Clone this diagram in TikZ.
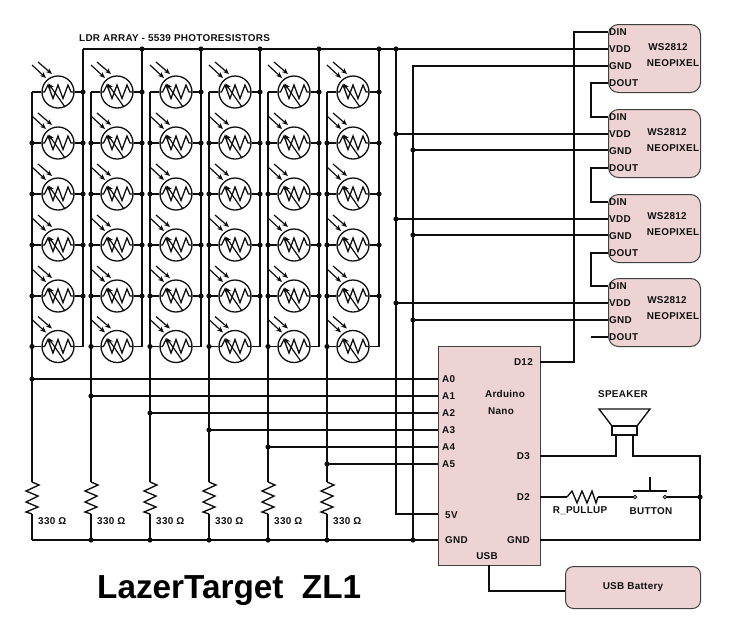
\documentclass[tikz,border=0pt]{standalone}
\usepackage{fontspec}
\setmainfont{Liberation Sans}
\newfontfamily\labelfont[LetterSpace=3]{Liberation Sans}
\usetikzlibrary{calc, arrows.meta, positioning}
\definecolor{wireBlack}{gray}{0.06}
\definecolor{boxPink}{HTML}{EDD3D3}
\definecolor{boxBorder}{gray}{0.25}

\tikzset{
    wire/.style={line width=1.35pt, wireBlack, line join=miter},
    txt/.style={font=\labelfont\bfseries\fontsize{9.9}{11}\selectfont, text=wireBlack, inner sep=0pt},
    chipbox/.style={draw=boxBorder, fill=boxPink, line width=1pt, inner sep=0pt, anchor=north west},
    ldrring/.style={circle, draw=wireBlack, line width=1.3pt, minimum size=32pt, inner sep=0pt},
    ldr/.pic={
        \draw[line width=1.3pt, wireBlack] (-16,0) -- (-13.5,0) -- (-10,-7) -- (-5,6.5) -- (0,-7) -- (5,6.5) -- (10,-7) -- (13,0) -- (16,0);
        \draw[->, line width=1.2pt, wireBlack] (7,15) -- (-9.5,-8.5);
        \draw[->, line width=1.2pt, wireBlack] (-26,-27) -- (-12,-14);
        \draw[->, line width=1.2pt, wireBlack] (-20,-30) -- (-6,-18);
    },
    vres/.pic={
        \draw[wire] (0,0) -- (7,3) -- (-6,9) -- (6,14) -- (-6,20) -- (6,25) -- (-6,30) -- (0,32);
    },
    hres/.pic={
        \draw[wire] (0,0) -- (5,-6) -- (10,6) -- (15,-6) -- (20,6) -- (25,-6) -- (29,6) -- (31,0);
    },
    jdot/.style={circle, fill=wireBlack, inner sep=0pt, minimum size=5.2pt}
}

\begin{document}
\begin{tikzpicture}[x=1pt, y=-1pt, >={Stealth[length=6pt,width=5pt]}]
    \useasboundingbox (0,0) rectangle (735,643);

    % LDR matrix
    \foreach \c/\cx/\lx/\rx in {1/58/32/83, 2/117/91/142, 3/176/150/201, 4/235/209/260, 5/294/268/319, 6/353/327/379} {
        \foreach \r/\ry in {1/92, 2/143, 3/194, 4/245, 5/296, 6/346.5} {
            \node[ldrring] (ldr\c\r) at (\cx,\ry) {};
            \pic at (ldr\c\r) {ldr};
            \coordinate (lb\c\r) at (\lx,\ry);
            \coordinate (rb\c\r) at (\rx,\ry);
            \draw[wire] (lb\c\r) -- (ldr\c\r.west);
            \draw[wire] (ldr\c\r.east) -- (rb\c\r);
            \ifnum\r>1 \node[jdot] at (lb\c\r) {}; \fi
            \ifnum\r<6 \node[jdot] at (rb\c\r) {}; \fi
        }
        % Column buses
        \coordinate (rtop\c) at (\rx,49);
        \coordinate (gtop\c) at (\lx,482);
        \coordinate (gbot\c) at (\lx,514);
        \coordinate (gnd\c) at (\lx,540);
        \draw[wire] (rtop\c) -- (rb\c6);
        \draw[wire] (lb\c1) -- (gtop\c);
        \pic at (gtop\c) {vres};
        \draw[wire] (gbot\c) -- (gnd\c);
        \node[txt, anchor=west] (ohm\c) at (\lx+6,521) {330 Ω};
        \ifnum\c>1
            \node[jdot] at (rtop\c) {};
            \node[jdot] at (gnd\c) {};
        \fi
    }
    \node[txt, anchor=west] (arraylabel) at (79,38) {LDR ARRAY - 5539 PHOTORESISTORS};

    % Arduino
    \node[chipbox, minimum width=102pt, minimum height=219pt] (nano) at (438,346) {};
    \node[txt] (nanoname) at (505,394) {Arduino};
    \node[txt] (nanotype) at (501,411) {Nano};
    \node[txt, anchor=east] (d12) at (533,362) {D12};
    \node[txt, anchor=east] (d3) at (530,456) {D3};
    \node[txt, anchor=east] (d2) at (530,497) {D2};
    \node[txt, anchor=west] (fivev) at (445,515) {5V};
    \node[txt, anchor=west] (gndl) at (445,540) {GND};
    \node[txt, anchor=east] (gndr) at (530,540) {GND};
    \node[txt] (usb) at (487,556) {USB};
    \foreach \c/\a/\y in {1/A0/379, 2/A1/396, 3/A2/413, 4/A3/430, 5/A4/447, 6/A5/464} {
        \node[txt, anchor=west] (pin\a) at (442,\y) {\a};
        \coordinate (col\c) at (gnd\c |- pin\a);
        \draw[wire] (col\c) -- (438,\y);
        \node[jdot] at (col\c) {};
    }
    \draw[wire] (gnd1) -- (438,540);

    % Neopixels
    \foreach \n/\y/\ws/\wx in {1/24/47/668, 2/109/132/667, 3/194/216/667, 4/278/300/667} {
        \node[chipbox, rounded corners=10pt, minimum width=92pt, minimum height=68pt] (neo\n) at (608,\y) {};
        \node[txt] (ws\n) at (\wx,\ws) {WS2812};
        \node[txt] (np\n) at (673,\ws+16) {NEOPIXEL};
        \node[txt, anchor=west] (din\n) at (609,\y+8) {DIN};
        \node[txt, anchor=west] (vdd\n) at (609,\y+25) {VDD};
        \node[txt, anchor=west] (gn\n) at (609,\y+42) {GND};
        \node[txt, anchor=west] (dout\n) at (609,\y+59) {DOUT};
    }

    % Power rails
    \coordinate (vrail) at (396,49);
    \coordinate (grail) at (413,66);
    \draw[wire] (rtop1) -- (vrail) -- (608,49);
    \draw[wire] (608,66) -- (grail) -- (413,540);
    \draw[wire] (vrail) -- (396,514) -- (438,514);
    \node[jdot] at (vrail) {};
    \node[jdot] at (413,540) {};
    \foreach \y in {134, 219, 303} {
        \draw[wire] (396,\y) -- (608,\y);
        \node[jdot] at (396,\y) {};
    }
    \foreach \y in {150, 235, 320} {
        \draw[wire] (413,\y) -- (608,\y);
        \node[jdot] at (413,\y) {};
    }

    % Data chain
    \draw[wire] (540,362) -- (574,362) -- (574,32) -- (608,32);
    \draw[wire] (608,83) -- (591,83) -- (591,117) -- (608,117);
    \draw[wire] (608,168) -- (591,168) -- (591,202) -- (608,202);
    \draw[wire] (608,253) -- (591,253) -- (591,286) -- (608,286);
    \draw[wire] (591,337) -- (608,337);

    % Speaker
    \node[txt] (speakerlabel) at (623,394) {SPEAKER};
    \draw[wire, fill=white] (599,409) -- (650,409) -- (637,426) -- (612,426) -- cycle;
    \draw[wire, fill=white] (612,426) rectangle (637,435);
    \draw[wire] (540,456) -- (616,456) -- (616,435);
    \draw[wire] (633,435) -- (633,456) -- (700,456) -- (700,540) -- (540,540);

    % Button and pullup
    \coordinate (rin) at (567,497);
    \draw[wire] (540,497) -- (rin);
    \pic at (rin) {hres};
    \draw[wire] (598,497) -- (633.5,497);
    \draw[wire] (633,491) -- (667,491);
    \draw[wire] (650,491) -- (650,477);
    \draw[wire] (665.5,497) -- (700,497);
    \draw[line width=0.9pt, wireBlack, fill=white] (635,497) circle (1.7pt) (665,497) circle (1.7pt);
    \node[jdot] at (700,497) {};
    \node[txt] (pulluplabel) at (580,511) {R\_PULLUP};
    \node[txt] (buttonlabel) at (651,511) {BUTTON};

    % USB battery
    \node[chipbox, rounded corners=8pt, minimum width=135pt, minimum height=42pt] (battery) at (565,566) {};
    \node[txt] (batterylabel) at (battery.center) {USB Battery};
    \draw[wire] (489,565) -- (489,591) -- (battery.west |- 0,591);

    % Title
    \node[font=\bfseries\fontsize{33.3}{36}\selectfont, text=black, inner sep=0pt, anchor=west] (title) at (97,591) {LazerTarget\ \ ZL1};
\end{tikzpicture}
\end{document}
